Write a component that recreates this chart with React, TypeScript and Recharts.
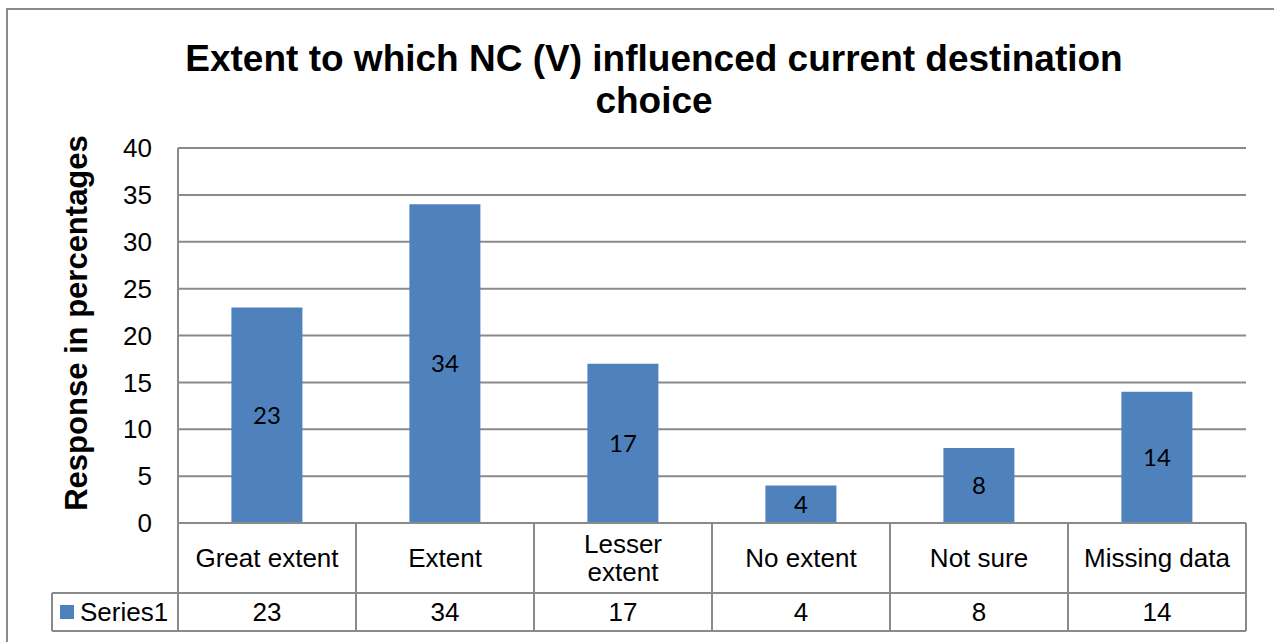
import React from "react"
import { BarChart, Bar, XAxis, YAxis, CartesianGrid, LabelList } from "recharts"

// chart values
const categories = ["Great extent", "Extent", "Lesser extent", "No extent", "Not sure", "Missing data"]
const series1 = [23, 34, 17, 4, 8, 14]
const yTicks = [0, 5, 10, 15, 20, 25, 30, 35, 40]
const seriesName = "Series1"
const titleLines = ["Extent to which NC (V) influenced current destination", "choice"]
const yTitle = "Response in percentages"

const data = categories.map((name, i) => ({ name, value: series1[i] }))

const W = 1274
const H = 642
const margin = { top: 148, right: 28, left: 0, bottom: 0 }
const Y_AXIS_W = 178
const X_AXIS_H = H - 523 - margin.bottom
const band = (W - margin.left - margin.right - Y_AXIS_W) / categories.length

const LINE = "#8a8a8a"
const BAR = "#4F81BD"
const ROW1 = 70
const ROW2 = 38
const ARIAL = "'Liberation Sans', Arial, sans-serif"

function wrap(label: string) {
    // Excel wrapped the longer label into two lines
    return label.length > 12 ? label.split(" ") : [label]
}

function TableTick(props: any) {
    const { x, y, payload, index } = props
    const left = x - band / 2
    const right = x + band / 2
    const lines = wrap(String(payload.value))
    const lh = 28
    const midY = y + ROW1 / 2
    const firstY = midY - ((lines.length - 1) * lh) / 2
    const last = index === categories.length - 1
    return (
        <g>
            <line x1={left} y1={y} x2={left} y2={y + ROW1 + ROW2} stroke={LINE} strokeWidth={2} />
            {last && <line x1={right} y1={y} x2={right} y2={y + ROW1 + ROW2} stroke={LINE} strokeWidth={2} />}
            <line x1={left} y1={y + ROW1} x2={right} y2={y + ROW1} stroke={LINE} strokeWidth={2} />
            <line x1={left} y1={y + ROW1 + ROW2} x2={right} y2={y + ROW1 + ROW2} stroke={LINE} strokeWidth={2} />
            {lines.map((t, i) => (
                <text key={t} x={x} y={firstY + i * lh} textAnchor="middle" dominantBaseline="central"
                    fontFamily={ARIAL} fontSize={26} fill="#000">{t}</text>
            ))}
            <text x={x} y={y + ROW1 + ROW2 / 2} textAnchor="middle" dominantBaseline="central"
                fontFamily={ARIAL} fontSize={26} fill="#000">{series1[index]}</text>
            {index === 0 && (
                <g>
                    <line x1={52} y1={y + ROW1} x2={left} y2={y + ROW1} stroke={LINE} strokeWidth={2} />
                    <line x1={52} y1={y + ROW1 + ROW2} x2={left} y2={y + ROW1 + ROW2} stroke={LINE} strokeWidth={2} />
                    <line x1={52} y1={y + ROW1} x2={52} y2={y + ROW1 + ROW2} stroke={LINE} strokeWidth={2} />
                    <rect x={60} y={y + ROW1 + ROW2 / 2 - 7} width={14} height={14} fill={BAR} />
                    <text x={80} y={y + ROW1 + ROW2 / 2} dominantBaseline="central"
                        fontFamily={ARIAL} fontSize={26} fill="#000">{seriesName}</text>
                </g>
            )}
        </g>
    )
}

function YTitle() {
    return (
        <text x={87} y={323} transform="rotate(-90, 87, 323)" textAnchor="middle"
            fontFamily={ARIAL} fontSize={31} fontWeight="bold" fill="#000">{yTitle}</text>
    )
}

export default function App() {
    return (
        <div style={{ position: "absolute", left: 0, top: 0, width: W, height: H, background: "#fff", overflow: "hidden" }}>
            <div style={{ position: "absolute", left: 6, top: 8, width: W + 20, height: H + 20, borderLeft: `2px solid ${LINE}`, borderTop: `2px solid ${LINE}` }} />
            <div style={{ position: "absolute", left: 154, top: 38, width: 1000, textAlign: "center", fontFamily: ARIAL, fontWeight: "bold", fontSize: 37, lineHeight: "42px", color: "#000" }}>
                {titleLines.map((t) => <div key={t}>{t}</div>)}
            </div>
            <div style={{ position: "absolute", left: 0, top: 0 }}>
                <BarChart width={W} height={H} data={data} margin={margin} barCategoryGap="30%">
                    <CartesianGrid vertical={false} stroke={LINE} strokeWidth={2} />
                    <YAxis
                        width={Y_AXIS_W}
                        domain={[0, 40]}
                        ticks={yTicks}
                        interval={0}
                        tickLine={false}
                        tickSize={0}
                        tickMargin={26}
                        axisLine={{ stroke: LINE, strokeWidth: 2 }}
                        tick={{ fontFamily: ARIAL, fontSize: 26, fill: "#000" }}
                        label={<YTitle />}
                    />
                    <XAxis
                        dataKey="name"
                        height={X_AXIS_H}
                        interval={0}
                        tickLine={false}
                        tickSize={0}
                        tickMargin={0}
                        axisLine={{ stroke: LINE, strokeWidth: 2 }}
                        tick={<TableTick />}
                    />
                    <Bar dataKey="value" fill={BAR} isAnimationActive={false}>
                        <LabelList dataKey="value" position="center" fill="#000" fontFamily="Lato, 'Open Sans', sans-serif" fontSize={24} />
                    </Bar>
                </BarChart>
            </div>
        </div>
    )
}
